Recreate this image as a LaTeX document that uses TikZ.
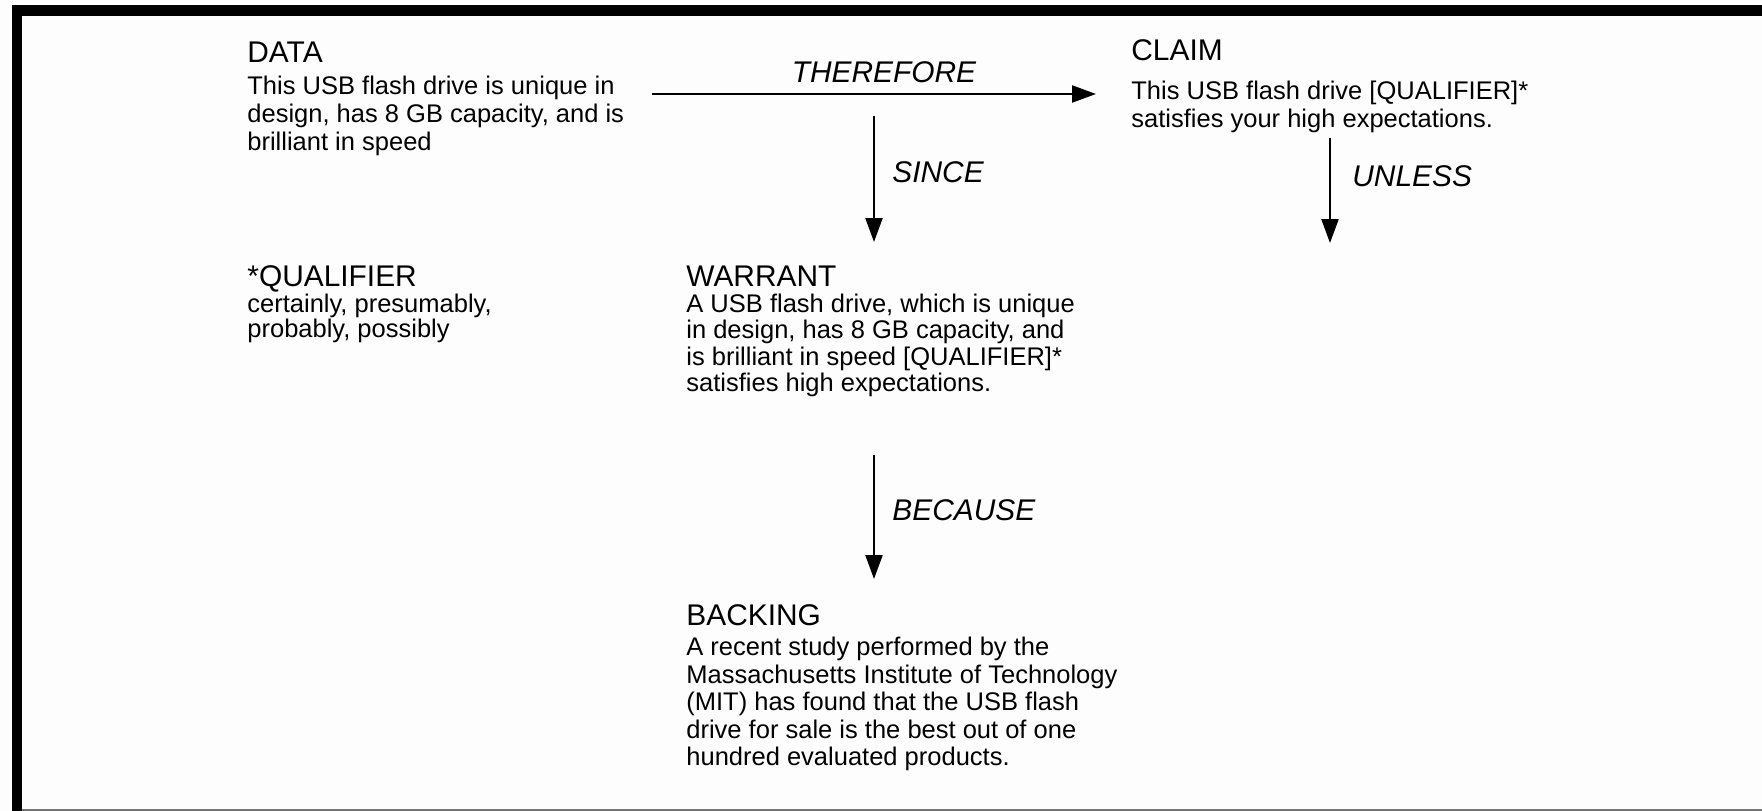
\documentclass[tikz,border=0pt]{standalone}
\usepackage{fontspec}
\setmainfont{Liberation Sans}
\usetikzlibrary{arrows.meta}
\definecolor{paper}{RGB}{253,253,253}
\begin{document}
\begin{tikzpicture}[x=0.5bp,y=-0.5bp,
  head/.style={anchor=base west,inner sep=0pt,font=\fontsize{15}{18}\selectfont},
  body/.style={anchor=north west,inner sep=0pt,align=left,font=\fontsize{12.8}{14.25}\selectfont},
  link/.style={inner sep=0pt,font=\fontsize{15}{18}\selectfont\itshape},
  conn/.style={line width=1.1pt,-{Triangle[length=12pt,width=8.5pt]}}]
\useasboundingbox (0,0) rectangle (1762,811);
\fill[paper] (0,0) rectangle (1762,811);

% frame: heavy top and left rules, thin bottom rule
\fill[black!55] (12,808.5) rectangle (1762,811);
\fill (12,5) rectangle (1762,16);
\fill (12,5) rectangle (22,811);

% DATA
\node[head] (data) at (247,62) {DATA};
\node[body] (datatxt) at (247,75.3) {This USB flash drive is unique in\\design, has 8 GB capacity, and is\\brilliant in speed};

% CLAIM
\node[head] (claim) at (1131,60) {CLAIM};
\node[body,font=\fontsize{12.8}{14}\selectfont] (claimtxt) at (1131,80.5) {This USB flash drive [QUALIFIER]*\\satisfies your high expectations.};

% QUALIFIER
\node[head] (qual) at (247,286) {*QUALIFIER};
\node[body,font=\fontsize{12.8}{12.8}\selectfont] (qualtxt) at (247,293.5) {certainly, presumably,\\probably, possibly};

% WARRANT
\node[head] (warrant) at (686,286) {WARRANT};
\node[body,font=\fontsize{12.8}{13.1}\selectfont] (warranttxt) at (686,294) {A USB flash drive, which is unique\\in design, has 8 GB capacity, and\\is brilliant in speed [QUALIFIER]*\\satisfies high expectations.};

% BACKING
\node[head] (backing) at (686,625) {BACKING};
\node[body,font=\fontsize{12.8}{13.8}\selectfont] (backingtxt) at (686,637) {A recent study performed by the\\Massachusetts Institute of Technology\\(MIT) has found that the USB flash\\drive for sale is the best out of one\\hundred evaluated products.};

% connector end points
\coordinate (thereS) at (652,94);
\coordinate (thereE) at (1096,94);
\coordinate (sinceS) at (874,116);
\coordinate (sinceE) at (874,242);
\coordinate (unlessS) at (1330,138);
\coordinate (unlessE) at (1330,243);
\coordinate (becauseS) at (874,455);
\coordinate (becauseE) at (874,579);

\draw[conn] (thereS) -- (thereE);
\draw[conn] (sinceS) -- (sinceE);
\draw[conn] (unlessS) -- (unlessE);
\draw[conn] (becauseS) -- (becauseE);

% connector labels
\node[link,anchor=base] (lblthere) at (884,82) {THEREFORE};
\node[link,anchor=base west] (lblsince) at (892,182) {SINCE};
\node[link,anchor=base west] (lblunless) at (1352,186) {UNLESS};
\node[link,anchor=base west] (lblbecause) at (892,520) {BECAUSE};
\end{tikzpicture}
\end{document}
